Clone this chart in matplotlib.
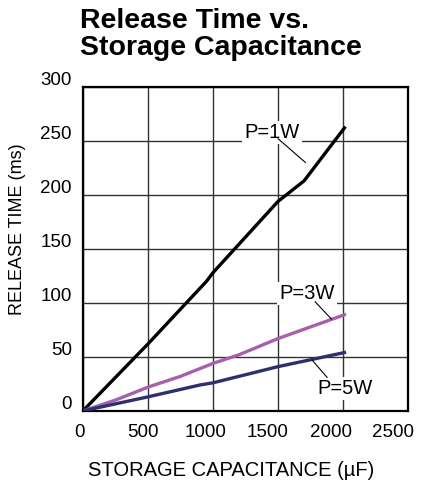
import matplotlib.pyplot as plt
from matplotlib import transforms

plt.rcParams['font.family'] = ['Liberation Sans', 'DejaVu Sans']

# data
cap_1w = [0, 500, 950, 1000, 1500, 1700, 2010]
rt_1w = [0, 62, 120, 128, 194, 213, 262]

cap_3w = [0, 250, 500, 750, 1000, 1200, 1500, 2010]
rt_3w = [0, 10, 22, 32, 44, 52, 67, 89]

cap_5w = [0, 500, 900, 1000, 1500, 2010]
rt_5w = [0, 13, 24, 26, 41, 54]

xticks = [0, 500, 1000, 1500, 2000, 2500]
yticks = [0, 50, 100, 150, 200, 250, 300]

fig = plt.figure(figsize=(4.23, 4.88), dpi=100)
ax = fig.add_axes([0.196, 0.158, 0.769, 0.664])

ax.plot(cap_1w, rt_1w, color='black', lw=2.4, zorder=3)
ax.plot(cap_3w, rt_3w, color='#a660ae', lw=2.4, zorder=3)
ax.plot(cap_5w, rt_5w, color='#2e306e', lw=2.4, zorder=3)

ax.set_xlim(0, 2500)
ax.set_ylim(0, 300)
ax.set_xticks(xticks)
ax.set_yticks(yticks)
ax.set_xticklabels([])
ax.set_yticklabels([])
ax.grid(True, color='#333333', lw=1.0)
ax.set_axisbelow(True)
ax.tick_params(length=0)
for s in ax.spines.values():
    s.set_linewidth(1.6)

# tick labels sit a little left / above the grid lines in the original
xtr = transforms.blended_transform_factory(ax.transData, ax.transAxes)
xtr = xtr + transforms.ScaledTranslation(0, -0.22, fig.dpi_scale_trans)
for v in xticks:
    ax.text(v * 0.963 - 23, 0, str(v), transform=xtr, fontsize=13.5,
            ha='center', va='center', clip_on=False)
ytr = transforms.blended_transform_factory(ax.transAxes, ax.transData)
ytr = ytr + transforms.ScaledTranslation(-0.11, 0.06, fig.dpi_scale_trans)
for v in yticks:
    ax.text(0, v, str(v), transform=ytr, fontsize=13.5,
            ha='right', va='center', clip_on=False)

bbox = dict(facecolor='white', edgecolor='none', pad=1.5)
ax.text(1454, 258, 'P=1W', fontsize=14.5, ha='center', va='center', bbox=bbox, zorder=4)
ax.plot([1500, 1710], [252, 230], color='black', lw=0.8, zorder=4)
ax.text(1723, 109, 'P=3W', fontsize=14.5, ha='center', va='center', bbox=bbox, zorder=4)
ax.plot([1785, 1910], [101, 85], color='black', lw=0.8, zorder=4)
ax.text(2015, 21, 'P=5W', fontsize=14.5, ha='center', va='center', bbox=bbox, zorder=4)
ax.plot([1877, 1762], [31, 47], color='black', lw=0.8, zorder=4)

fig.text(231 / 423, 1 - 470 / 488, 'STORAGE CAPACITANCE (µF)', fontsize=14.5,
         ha='center', va='center')
fig.text(18 / 423, 1 - 229 / 488, 'RELEASE TIME (ms)', fontsize=13,
         ha='center', va='center', rotation=90)

fig.text(0.189, 0.984, 'Release Time vs.\nStorage Capacitance', fontsize=20.5,
         fontweight='bold', ha='left', va='top', linespacing=1.08)

fig.savefig('out.png', dpi=100)
